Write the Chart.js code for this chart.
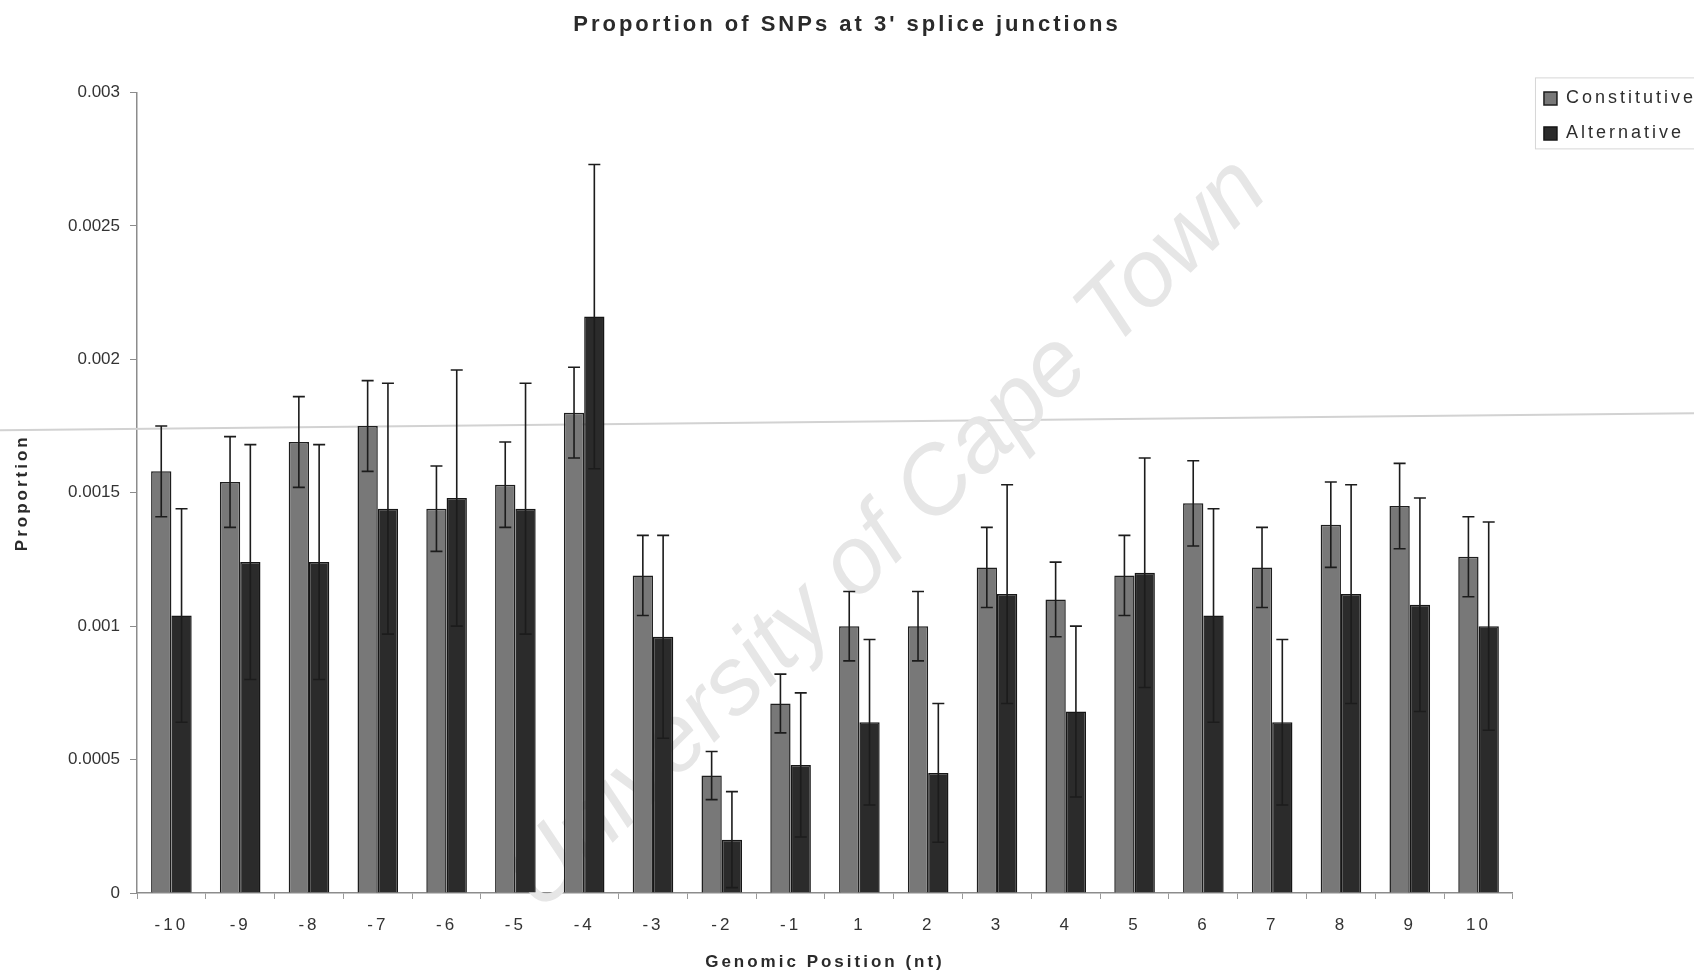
<!DOCTYPE html>
<html>
<head>
<meta charset="utf-8">
<title>Proportion of SNPs at 3' splice junctions</title>
<script src="https://cdn.jsdelivr.net/npm/chart.js@4.4.1/dist/chart.umd.min.js"></script>
<style>
    html, body { margin: 0; padding: 0; background: #ffffff; }
    #wrap { width: 1694px; height: 977px; }
</style>
</head>
<body>
<div id="wrap"><canvas id="snpChart" width="1694" height="977"></canvas></div>
<script>
// Data
const categories = ['-10', '-9', '-8', '-7', '-6', '-5', '-4', '-3', '-2', '-1',
                    '1', '2', '3', '4', '5', '6', '7', '8', '9', '10'];

const constitutive = [0.00158, 0.00154, 0.00169, 0.00175, 0.00144, 0.00153, 0.00180, 0.00119, 0.00044, 0.00071,
                      0.00100, 0.00100, 0.00122, 0.00110, 0.00119, 0.00146, 0.00122, 0.00138, 0.00145, 0.00126];
const constitutiveErr = [0.00017, 0.00017, 0.00017, 0.00017, 0.00016, 0.00016, 0.00017, 0.00015, 0.00009, 0.00011,
                         0.00013, 0.00013, 0.00015, 0.00014, 0.00015, 0.00016, 0.00015, 0.00016, 0.00016, 0.00015];

const alternative = [0.00104, 0.00124, 0.00124, 0.00144, 0.00148, 0.00144, 0.00216, 0.00096, 0.00020, 0.00048,
                     0.00064, 0.00045, 0.00112, 0.00068, 0.00120, 0.00104, 0.00064, 0.00112, 0.00108, 0.00100];
const alternativeErr = [0.00040, 0.00044, 0.00044, 0.00047, 0.00048, 0.00047, 0.00057, 0.00038, 0.00018, 0.00027,
                        0.00031, 0.00026, 0.00041, 0.00032, 0.00043, 0.00040, 0.00031, 0.00041, 0.00040, 0.00039];

const yTickLabels = ['0', '0.0005', '0.001', '0.0015', '0.002', '0.0025', '0.003'];
const yStep = 0.0005;

// Scan artefacts of the original page (watermark and a faint line), in data units
const watermarkText = 'University of Cape Town';
const scanLineValues = [0.001734, 0.001798];

const fontFamily = '"Liberation Sans", Arial, Helvetica, sans-serif';

// Error bars (symmetric, capped) drawn from the library's own element positions
const errorBarPlugin = {
    id: 'errorBars',
    afterDatasetsDraw(chart) {
        const ctx = chart.ctx;
        const yScale = chart.scales.y;
        const errs = [constitutiveErr, alternativeErr];
        ctx.save();
        ctx.strokeStyle = '#1c1c1c';
        ctx.lineWidth = 1.6;
        chart.data.datasets.forEach((ds, di) => {
            const meta = chart.getDatasetMeta(di);
            meta.data.forEach((bar, i) => {
                const v = ds.data[i];
                const e = errs[di][i];
                const top = yScale.getPixelForValue(v + e);
                const bot = yScale.getPixelForValue(v - e);
                const cap = 6;
                ctx.beginPath();
                ctx.moveTo(bar.x, top);
                ctx.lineTo(bar.x, bot);
                ctx.moveTo(bar.x - cap, top);
                ctx.lineTo(bar.x + cap, top);
                ctx.moveTo(bar.x - cap, bot);
                ctx.lineTo(bar.x + cap, bot);
                ctx.stroke();
            });
        });
        ctx.restore();
    }
};

// Wide letter spacing of the scanned labels; y tick labels are drawn later without it
const spacingPlugin = {
    id: 'spacing',
    beforeLayout(chart) {
        chart.ctx.letterSpacing = '2px';
    },
    afterLayout(chart) {
        chart.ctx.letterSpacing = '0px';
    },
    beforeDraw(chart) {
        chart.ctx.letterSpacing = '3px';
    },
    beforeDatasetsDraw(chart) {
        chart.ctx.letterSpacing = '0px';
    },
    afterDraw(chart) {
        chart.ctx.letterSpacing = '0px';
    }
};

// Watermark and scan line behind the bars
const scanPlugin = {
    id: 'scan',
    beforeDatasetsDraw(chart) {
        const ctx = chart.ctx;
        const yScale = chart.scales.y;
        ctx.save();
        ctx.strokeStyle = '#d2d2d2';
        ctx.lineWidth = 2;
        ctx.beginPath();
        ctx.moveTo(0, yScale.getPixelForValue(scanLineValues[0]));
        ctx.lineTo(chart.width, yScale.getPixelForValue(scanLineValues[1]));
        ctx.stroke();

        const area = chart.chartArea;
        ctx.translate(area.left + (area.right - area.left) * 0.545, area.top + (area.bottom - area.top) * 0.553);
        ctx.rotate(-44.6 * Math.PI / 180);
        ctx.font = 'italic 95px ' + fontFamily;
        ctx.fillStyle = '#e6e6e6';
        ctx.textAlign = 'center';
        ctx.textBaseline = 'middle';
        ctx.fillText(watermarkText, 0, 0);
        ctx.restore();
    }
};

// Thin frame round the legend, as in the original
const legendFramePlugin = {
    id: 'legendFrame',
    afterDraw(chart) {
        const boxes = chart.legend && chart.legend.legendHitBoxes;
        if (!boxes || !boxes.length) return;
        const first = boxes[0];
        const last = boxes[boxes.length - 1];
        const ctx = chart.ctx;
        ctx.save();
        ctx.strokeStyle = '#d6d6d6';
        ctx.lineWidth = 1;
        ctx.strokeRect(first.left - 8.5, first.top - 11.5, chart.width, last.top + last.height - first.top + 18);
        ctx.restore();
    }
};

const ctx = document.getElementById('snpChart').getContext('2d');
const snpChart = new Chart(ctx, {
    type: 'bar',
    data: {
        labels: categories,
        datasets: [
            {
                label: 'Constitutive',
                data: constitutive,
                backgroundColor: '#787878',
                borderColor: '#1e1e1e',
                borderWidth: 1.5,
                categoryPercentage: 0.59,
                barPercentage: 1.0
            },
            {
                label: 'Alternative',
                data: alternative,
                backgroundColor: '#2b2b2b',
                borderColor: '#161616',
                borderWidth: 1.5,
                categoryPercentage: 0.59,
                barPercentage: 1.0
            }
        ]
    },
    options: {
        responsive: false,
        animation: false,
        layout: { padding: { left: 0, top: 0, right: 0, bottom: 0 } },
        plugins: {
            title: {
                display: true,
                text: "Proportion of SNPs at 3' splice junctions",
                color: '#2a2a2a',
                font: { family: fontFamily, size: 22, weight: 'bold' },
                padding: { top: 12, bottom: 54 }
            },
            legend: {
                display: true,
                position: 'right',
                align: 'start',
                title: {
                    display: true,
                    text: ' ',
                    font: { size: 12 },
                    padding: { top: 58, bottom: 0 }
                },
                labels: {
                    boxWidth: 13,
                    boxHeight: 13,
                    padding: 17,
                    color: '#2e2e2e',
                    font: { family: fontFamily, size: 18 }
                }
            },
            tooltip: { enabled: false }
        },
        scales: {
            x: {
                grid: {
                    display: true,
                    drawOnChartArea: false,
                    drawTicks: true,
                    tickLength: 6,
                    color: '#9a9a9a',
                    offset: true
                },
                border: { display: true, color: '#8c8c8c', width: 1.5 },
                ticks: {
                    color: '#333333',
                    padding: 16,
                    font: { family: fontFamily, size: 17 },
                    maxRotation: 0,
                    autoSkip: false
                },
                title: {
                    display: true,
                    text: 'Genomic Position (nt)',
                    color: '#2a2a2a',
                    font: { family: fontFamily, size: 17, weight: 'bold' },
                    padding: { top: 0, bottom: 4 }
                },
                afterFit(scale) { scale.height = 84; }
            },
            y: {
                min: 0,
                max: 0.003,
                grid: {
                    display: true,
                    drawOnChartArea: false,
                    drawTicks: true,
                    tickLength: 7,
                    color: '#8c8c8c'
                },
                border: { display: true, color: '#8c8c8c', width: 1.5 },
                ticks: {
                    stepSize: yStep,
                    z: 1,
                    color: '#333333',
                    padding: 10,
                    font: { family: fontFamily, size: 17 },
                    callback: function(value) {
                        return yTickLabels[Math.round(value / yStep)];
                    }
                },
                title: {
                    display: true,
                    text: 'Proportion',
                    color: '#2a2a2a',
                    font: { family: fontFamily, size: 17, weight: 'bold' },
                    padding: { top: 12, bottom: 0 }
                },
                afterFit(scale) { scale.width = 137; }
            },
            gap: {
                type: 'linear',
                position: 'right',
                display: true,
                grid: { display: false, drawTicks: false },
                border: { display: false },
                ticks: { display: false },
                afterFit(scale) { scale.width = 14; }
            }
        }
    },
    plugins: [spacingPlugin, scanPlugin, errorBarPlugin, legendFramePlugin]
});
</script>
</body>
</html>
